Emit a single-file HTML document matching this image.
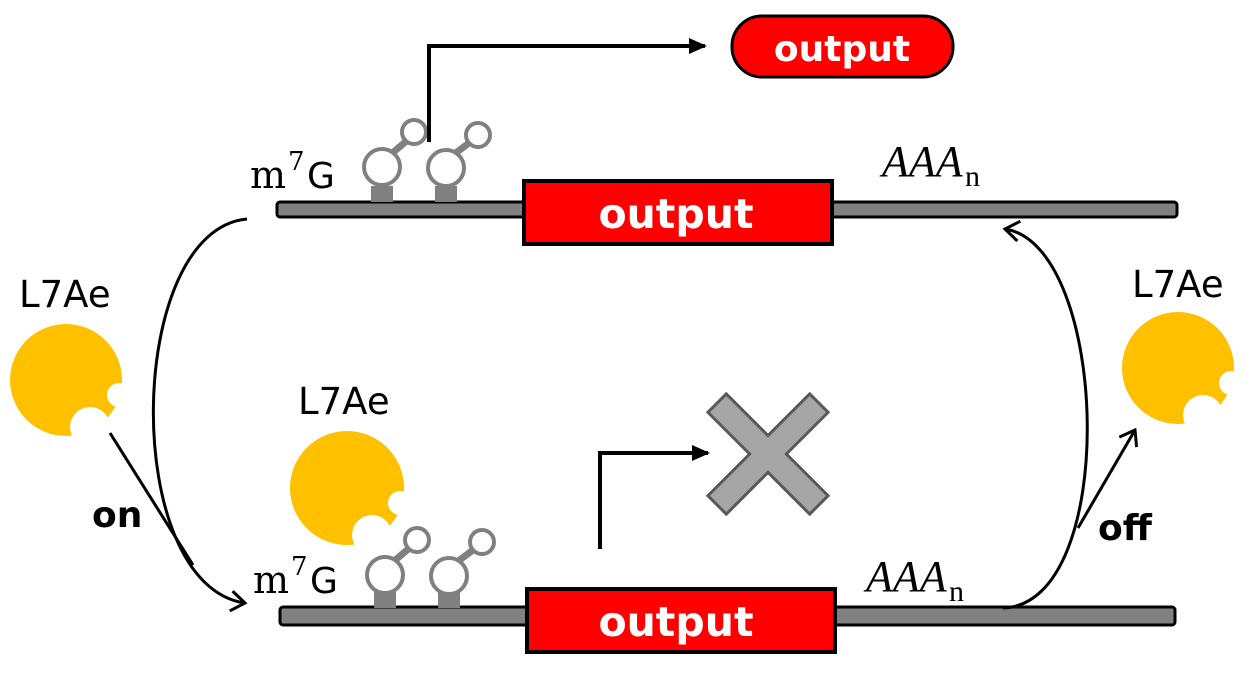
<!DOCTYPE html>
<html><head><style>body{margin:0;background:#fff}svg{display:block}</style></head><body>
<svg width="1259" height="688" viewBox="0 0 1259 688" xmlns="http://www.w3.org/2000/svg">
<defs>
<marker id="oa" markerWidth="18" markerHeight="22" refX="15" refY="11" orient="auto" markerUnits="userSpaceOnUse"><path d="M1,1 L15,11 L1,21" fill="none" stroke="#000" stroke-width="3"/></marker>
<marker id="fa" markerWidth="18" markerHeight="16" refX="16" refY="8" orient="auto" markerUnits="userSpaceOnUse"><path d="M0,0 L18,8 L0,16z" fill="#000"/></marker>
</defs>
<g font-family="DejaVu Sans, sans-serif">
<rect x="277" y="202" width="900" height="15" rx="3" fill="#808080" stroke="#000" stroke-width="3"/>
<g fill="#fff" stroke="#808080" stroke-width="4">
<rect x="371" y="186" width="22" height="16" fill="#808080" stroke="none"/>
<rect x="435" y="186" width="22" height="16" fill="#808080" stroke="none"/>
<line x1="390" y1="155" x2="410" y2="138" stroke-width="7"/>
<line x1="453" y1="155" x2="473" y2="140" stroke-width="7"/>
<circle cx="382" cy="167" r="18"/><circle cx="414" cy="132" r="12"/>
<circle cx="446" cy="168" r="18"/><circle cx="478" cy="135" r="12"/>
</g>
<rect x="524" y="181" width="308" height="63" fill="#f00" stroke="#000" stroke-width="4"/>
<text x="676" y="228" font-size="41" font-weight="bold" fill="#fff" text-anchor="middle">output</text>
<text x="250" y="188" font-size="38" font-family="DejaVu Serif, serif">m</text>
<text x="288" y="170" font-size="26" font-family="DejaVu Serif, serif">7</text>
<text x="307" y="188" font-size="36">G</text>
<text x="882" y="176" font-size="44" font-style="italic" font-family="Liberation Serif, serif">AAA</text>
<text x="965" y="186" font-size="30" font-family="Liberation Serif, serif">n</text>
<path d="M429,142 V46 H705" fill="none" stroke="#000" stroke-width="4" marker-end="url(#fa)"/>
<rect x="732" y="16" width="221" height="61" rx="30" fill="#f00" stroke="#000" stroke-width="3"/>
<text x="842" y="61" font-size="36" font-weight="bold" fill="#fff" text-anchor="middle">output</text>
<rect x="280" y="607" width="895" height="18" rx="3" fill="#808080" stroke="#000" stroke-width="3"/>
<g fill="#fff" stroke="#808080" stroke-width="4">
<rect x="374" y="592" width="22" height="16" fill="#808080" stroke="none"/>
<rect x="438" y="592" width="22" height="16" fill="#808080" stroke="none"/>
<line x1="393" y1="562" x2="413" y2="545" stroke-width="7"/>
<line x1="457" y1="562" x2="477" y2="547" stroke-width="7"/>
<circle cx="385" cy="575" r="18"/><circle cx="417" cy="540" r="12"/>
<circle cx="449" cy="576" r="18"/><circle cx="482" cy="542" r="12"/>
</g>
<rect x="527" y="589" width="308" height="63" fill="#f00" stroke="#000" stroke-width="4"/>
<text x="676" y="636" font-size="41" font-weight="bold" fill="#fff" text-anchor="middle">output</text>
<text x="253" y="593" font-size="38" font-family="DejaVu Serif, serif">m</text>
<text x="291" y="575" font-size="26" font-family="DejaVu Serif, serif">7</text>
<text x="310" y="593" font-size="36">G</text>
<text x="866" y="591" font-size="44" font-style="italic" font-family="Liberation Serif, serif">AAA</text>
<text x="949" y="601" font-size="30" font-family="Liberation Serif, serif">n</text>
<path d="M600,549 V453 H708" fill="none" stroke="#000" stroke-width="4" marker-end="url(#fa)"/>
<g transform="translate(768,454) rotate(45)" fill="#a6a6a6" stroke="#595959" stroke-width="3">
<path d="M-13,-72 H13 V-13 H72 V13 H13 V72 H-13 V13 H-72 V-13 H-13z"/>
</g>
<path d="M247,219 C125,230 120,585 245,603" fill="none" stroke="#000" stroke-width="3" marker-end="url(#oa)"/>
<path d="M1003,608 C1120,605 1110,245 1005,229" fill="none" stroke="#000" stroke-width="3" marker-end="url(#oa)"/>
<line x1="110" y1="433" x2="193" y2="565" stroke="#000" stroke-width="3"/>
<line x1="1078" y1="528" x2="1135" y2="430" stroke="#000" stroke-width="3" marker-end="url(#oa)"/>
<g fill="#ffc000"><circle cx="66" cy="380" r="56"/><circle cx="347" cy="488" r="57"/><circle cx="1178" cy="368" r="56"/></g>
<g fill="#fff">
<circle cx="119" cy="395" r="12"/><circle cx="90" cy="427" r="20"/>
<circle cx="400" cy="503" r="12"/><circle cx="372" cy="535" r="20"/>
<circle cx="1231" cy="383" r="12"/><circle cx="1203" cy="415" r="20"/>
</g>
<g font-size="37" fill="#000">
<text x="19" y="307">L7Ae</text>
<text x="298" y="414">L7Ae</text>
<text x="1132" y="297">L7Ae</text>
</g>
<text x="92" y="527" font-size="36" font-weight="bold">on</text>
<text x="1098" y="540" font-size="36" font-weight="bold">off</text>
</g>
</svg>
</body></html>
